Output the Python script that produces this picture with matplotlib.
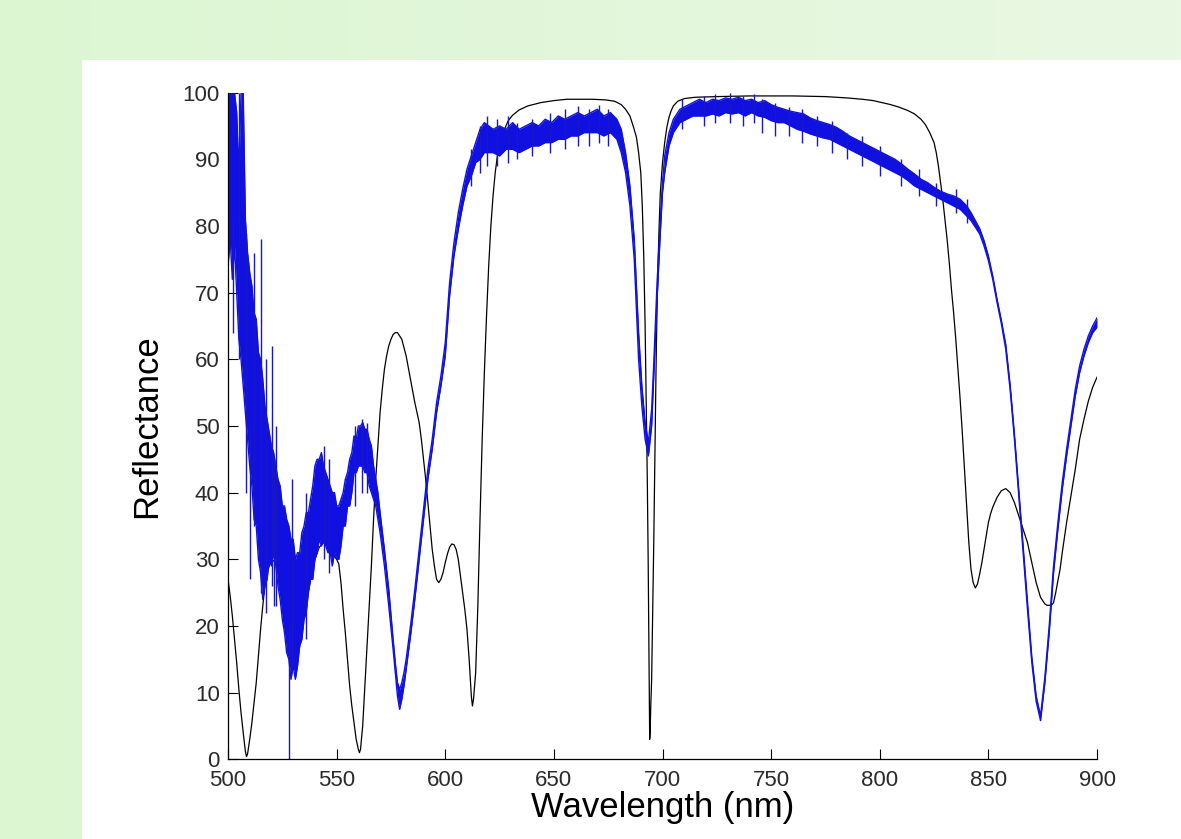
import numpy as np
import matplotlib
matplotlib.use("Agg")
import matplotlib.pyplot as plt
from matplotlib.patches import Rectangle
from matplotlib.colors import LinearSegmentedColormap

# ---------------- data ----------------
# simulated reflectance (black)
sim_wl = [500, 501, 502, 503, 504, 505, 506, 507, 508, 508.5, 509, 510, 511, 512, 513, 514,
          515, 516, 517, 518, 520, 522, 524, 526, 528, 530, 532, 534, 536, 538, 540, 542,
          544, 546, 548, 550, 551, 552, 553, 554, 555, 556, 557, 558, 559, 560, 560.5, 561,
          562, 563, 564, 565, 566, 567, 568, 569, 570, 571, 572, 573, 574, 575, 576, 577,
          578, 579, 580, 582, 584, 586, 588, 589, 590, 591, 592, 593, 594, 595, 596, 597,
          598, 599, 600, 601, 602, 603, 604, 605, 606, 607, 608, 609, 610, 611, 612, 612.5,
          613, 614, 615, 616, 617, 618, 619, 620, 621, 622, 623, 624, 625, 627, 629, 631,
          634, 638, 644, 650, 656, 662, 668, 674, 678, 681, 683, 685, 686.5, 688, 689, 690,
          690.7, 691.4, 692, 692.5, 693, 693.4, 693.7, 693.9, 694.1, 694.3, 694.6, 695,
          695.5, 696, 696.5, 697, 697.5, 698, 698.5, 699, 700, 701, 702, 703, 704, 705, 707,
          710, 715, 725, 740, 760, 775, 785, 792, 797, 801, 805, 809, 813, 816, 819, 821,
          823, 825, 826, 827, 828, 829, 830, 831, 832, 833, 834, 835, 836, 837, 838, 839,
          840, 841, 842, 843, 844, 845, 846, 847, 848, 849, 850, 851, 852, 854, 856, 858,
          860, 862, 864, 866, 868, 870, 872, 874, 876, 877, 879, 880, 881, 882, 883, 884,
          886, 888, 890, 892, 894, 896, 898, 900]
sim_R = [27, 24.5, 21.5, 18, 14.5, 10.5, 7, 4, 1.2, 0.4, 0.8, 3, 5.5, 8.5, 11.5, 15.5,
         19.5, 23, 26, 28, 30, 29.5, 27, 23.5, 20.5, 18.5, 18.5, 20, 23.5, 27, 30, 31.8,
         32.5, 32, 30.8, 30, 29.3, 26.5, 22.5, 19, 15, 11, 8, 5.5, 3, 1.5, 1, 1.5,
         5, 11, 17, 23, 29, 36, 42, 47, 52, 55.5, 58.5, 60.5, 62, 63, 63.7, 64,
         64, 63.5, 63, 60.5, 57, 53.5, 50.5, 48, 45, 42, 38.5, 35, 31.5, 29, 27, 26.5,
         27, 28, 29.5, 30.8, 31.8, 32.3, 32.2, 31.5, 30, 27.5, 25, 22.5, 19.5, 15, 9.5, 8,
         9, 13, 23, 36, 48, 58, 66.5, 74, 80, 84.5, 88, 90.5, 92.3, 94.3, 95.8, 96.6,
         97.4, 98, 98.5, 98.8, 99, 99, 99, 98.9, 98.7, 98.2, 97.5, 96.5, 95, 93.3, 91, 88,
         83, 75, 65, 54, 42, 30, 18, 8, 3, 4, 8, 12,
         22, 33, 46, 58, 68, 75, 80.5, 85, 89.5, 92.5, 94.8, 96.3, 97.3, 98, 98.7,
         99.1, 99.3, 99.4, 99.5, 99.5, 99.4, 99.2, 99, 98.8, 98.5, 98.2, 97.8, 97.3, 96.8, 96, 95.2,
         94, 92.5, 91, 89, 86.5, 84, 81, 78, 74.5, 70.5, 67, 63, 58.5, 54, 49, 43.5,
         38, 32.5, 28.5, 26.5, 25.7, 26.3, 27.8, 29.5, 31.5, 33.5, 35.5, 36.8, 37.8, 39.3, 40.3, 40.6,
         40, 38.5, 36.5, 34.5, 32.5, 29.5, 26.5, 24.3, 23.3, 23.1, 23.1, 23.5, 25, 26.8, 28.5, 31,
         35.5, 39.5, 43.5, 48, 51, 53.7, 55.8, 57.3]

# measured reflectance (blue): noise band, lower and upper edge
meas_wl = [500, 501, 502, 503, 504, 505, 506, 507, 508, 509, 510, 511, 512, 513, 514, 515,
           516, 517, 518, 519, 520, 521, 522, 523, 524, 525, 526, 527, 528, 529, 530, 531,
           532, 533, 534, 535, 536, 537, 538, 539, 540, 541, 542, 543, 544, 545, 546, 547,
           548, 549, 550, 551, 552, 553, 554, 555, 556, 557, 558, 559, 560, 561, 562, 563,
           564, 565, 566, 567, 568, 569, 570, 572, 574, 576, 577, 578, 579, 580, 581, 582,
           584, 586, 588, 590, 592, 594, 596, 598, 600, 602, 604, 606, 608, 610, 612, 614,
           616, 618, 620, 622, 625, 628, 631, 634, 637, 640, 643, 646, 649, 652, 655, 658,
           661, 664, 667, 670, 673, 676, 679, 681, 683, 685, 687, 689, 690.5, 692, 693.5, 695,
           696, 697.5, 699, 700, 701, 703, 705, 708, 711, 714, 717, 720, 723, 726, 729, 732,
           735, 738, 741, 744, 747, 750, 753, 756, 759, 762, 765, 768, 771, 774, 777, 780,
           783, 786, 789, 792, 795, 798, 801, 804, 807, 810, 813, 816, 819, 822, 825, 828,
           831, 834, 837, 840, 842, 844, 846, 848, 850, 852, 854, 856, 858, 860, 862, 864,
           866, 868, 870, 872, 874, 876, 878, 880, 882, 884, 886, 888, 890, 892, 894, 896,
           898, 900]
meas_lo = [74, 78, 72, 77, 70, 63, 60, 56, 52, 48, 44, 41, 36, 35, 30, 28,
           24, 26, 27, 30, 29, 31, 29, 26, 24, 21, 19, 16, 15, 12, 14, 12,
           14, 17, 18, 21, 22, 25, 27, 27, 30, 31, 33, 32, 33, 32, 31, 31,
           29, 31, 30, 30, 32, 35, 35, 38, 38, 40, 43, 43, 44, 44, 44, 43,
           43, 41, 40, 39, 38, 36, 34, 29, 23, 16.5, 13, 9.5, 7.5, 9, 11, 13.5,
           18.5, 24, 30, 36, 42, 46.5, 52, 56, 60.5, 69.5, 75.5, 79.5, 83, 86, 87.5, 89.5,
           90, 91, 91, 91, 90.5, 91.5, 91.5, 91, 91.5, 92, 92, 92.5, 92.5, 93, 93, 93.5,
           93.5, 94, 94, 94, 93.5, 94, 93, 91, 88, 83, 75, 60, 53, 48, 45.5, 50,
           57.5, 69, 79, 85, 88, 92, 94, 95.5, 96, 96.5, 96.5, 96.5, 96.8, 96.5, 97, 96.8,
           97, 96.5, 97, 96.5, 96.3, 95.8, 95.5, 95.5, 95, 94.5, 94.2, 93.8, 93.5, 93.2, 93, 92.5,
           92, 91.5, 91, 90.5, 90, 89.5, 89, 88.5, 88, 87.5, 86.8, 86, 85.5, 85, 84.5, 84,
           83.5, 83, 82.5, 81.5, 80.8, 79.8, 78.8, 77, 74.8, 72, 68.5, 65.3, 61.5, 55.5, 48, 39.5,
           31, 22.5, 14.5, 8.7, 5.8, 11.5, 19, 28, 34.5, 40.5, 45.5, 50, 54.5, 58, 60.5, 62.5,
           64, 64.8]
meas_hi = [100, 100, 100, 100, 97, 88, 100, 100, 81, 76, 73, 71, 67, 66, 61, 60,
           57, 53, 51, 49, 47, 46, 44, 42, 41, 38, 38, 36, 35, 33, 33, 30,
           31, 31, 34, 35, 37, 37, 39, 41, 44, 45, 45, 46, 44, 43, 42, 41,
           40, 40, 38, 38, 39, 40, 42, 43, 45, 46, 48.5, 48, 50, 50, 50.5, 49.5,
           49.5, 48, 47, 44, 42, 40, 37, 31.5, 25.5, 18, 14.5, 11.5, 10.5, 11.5, 13, 15,
           20, 25.5, 31.5, 37.5, 43.5, 48, 53.5, 57.5, 62.5, 71.5, 77.5, 82, 85.5, 88.5, 90.5, 92.5,
           94.5, 95.5, 95, 94.5, 95, 94.5, 95.5, 94.5, 95, 95.5, 95, 96, 95.5, 96.5, 96, 96.5,
           97, 96.5, 97, 97.5, 96.5, 97, 96, 94.5, 91, 86, 78, 64, 56, 50.5, 47.5, 52.5,
           59.5, 71.5, 81, 86.5, 90.5, 94, 96, 97.5, 98, 98.5, 99, 98.5, 99, 98.8, 99.2, 99,
           99.3, 98.8, 99, 98.5, 98.8, 98.2, 97.8, 97.5, 97.2, 97, 96.8, 96.2, 95.8, 95.5, 95.2, 94.8,
           94.2, 93.5, 93, 92.5, 92, 91.5, 91, 90.5, 90, 89.3, 88.5, 87.8, 87, 86.5, 85.8, 85.2,
           84.8, 84.5, 84, 83, 82, 80.8, 79.6, 77.8, 75.5, 72.5, 69, 65.8, 62.2, 56.2, 48.7, 40.3,
           31.8, 23.3, 15.3, 9.5, 6.5, 12.3, 20, 29, 35.5, 41.5, 46.5, 51, 55.5, 59, 61.5, 63.5,
           65, 66.2]

# isolated noise spikes of the measured curve: wavelength, low end, high end
spike_wl = [502.3, 505.2, 508.2, 510.0, 512.1, 515.2, 517.5, 520.3, 521.3, 522.0, 528.1, 529.5,
            536.0, 544.0, 546.5, 558.5, 561.5, 564.0, 612, 616, 619, 624, 629, 633, 640, 648,
            655, 661, 666, 671, 675, 709, 719, 724, 731, 737, 742, 746, 752, 758, 764, 771,
            778, 785, 792, 800, 810, 818, 826, 835, 840]
spike_lo = [64, 60, 40, 27, 35, 25, 22, 26, 23, 23, 0, 14,
            18, 30, 28, 38, 40, 40, 86, 88, 89, 89, 89.5, 90, 90.5, 91,
            91.5, 92, 92, 92.5, 92, 94.5, 95, 95.5, 95.5, 95, 95.5, 94, 93.5, 93.5, 92.5, 92,
            91, 90, 89, 87.5, 86, 84.5, 83, 82, 80.5]
spike_hi = [81, 100, 79, 50, 76, 78, 60, 62, 45, 50, 20, 42,
            40, 47, 45, 50, 51, 50.5, 91.5, 95, 96.5, 96, 96.5, 95.5, 96, 97,
            97.5, 98, 97.5, 98.2, 97.5, 99, 99.5, 99.8, 100, 99.5, 99.8, 99, 98.5, 97.8, 97.5, 96.5,
            95.8, 94, 93.5, 92, 90, 88.5, 86.5, 85.5, 84]

x_ticks = [500, 550, 600, 650, 700, 750, 800, 850, 900]
y_ticks = [0, 10, 20, 30, 40, 50, 60, 70, 80, 90, 100]
x_label = "Wavelength (nm)"
y_label = "Reflectance"

# ---------------- figure ----------------
W, H = 1181, 839
fig = plt.figure(figsize=(W / 100, H / 100), dpi=100)
fig.patch.set_facecolor("white")

# green frame with slight horizontal gradient
bg = fig.add_axes([0, 0, 1, 1], zorder=-10)
bg.set_axis_off()
grad = np.linspace(0, 1, 256)[None, :]
cmap = LinearSegmentedColormap.from_list("g", ["#dcf6d2", "#e9f8e3"])
bg.imshow(grad, cmap=cmap, aspect="auto", extent=[0, W, 0, H])
bg.add_patch(Rectangle((82, 0), W - 82, H - 60, facecolor="white", edgecolor="none"))
bg.set_xlim(0, W)
bg.set_ylim(0, H)

L, R_, B, T = 228, 1097, 759.3, 92.6
ax = fig.add_axes([L / W, 1 - B / H, (R_ - L) / W, (B - T) / H])
ax.patch.set_alpha(0)

blue = "#1010e0"
ax.plot(sim_wl, sim_R, color="black", lw=0.9, zorder=2)
ax.fill_between(meas_wl, meas_lo, meas_hi, color=blue, lw=0, zorder=3)
ax.plot(meas_wl, meas_lo, color=blue, lw=1.0, zorder=3)
ax.plot(meas_wl, meas_hi, color=blue, lw=1.0, zorder=3)
ax.vlines(spike_wl, spike_lo, spike_hi, color="#1818c8", lw=1.0, zorder=3)

ax.set_xlim(500, 900)
ax.set_ylim(0, 100)
ax.set_xticks(x_ticks)
ax.set_yticks(y_ticks)
for s in ["top", "right"]:
    ax.spines[s].set_visible(False)
for s in ["left", "bottom"]:
    ax.spines[s].set_linewidth(0.9)
    ax.spines[s].set_zorder(4)
fam = ["Liberation Sans", "DejaVu Sans"]
ax.tick_params(direction="in", length=7, width=0.8, labelsize=16, colors="black")
ax.tick_params(axis="x", pad=8)
ax.tick_params(axis="y", pad=6)
for lab in ax.get_xticklabels() + ax.get_yticklabels():
    lab.set_fontfamily(fam)
    lab.set_color("#2a2a2a")
ax.set_xlabel(x_label, fontsize=25, family=fam, labelpad=0)
ax.set_ylabel(y_label, fontsize=25, family=fam, labelpad=14)

fig.savefig("out.png", dpi=100, facecolor=fig.get_facecolor())
